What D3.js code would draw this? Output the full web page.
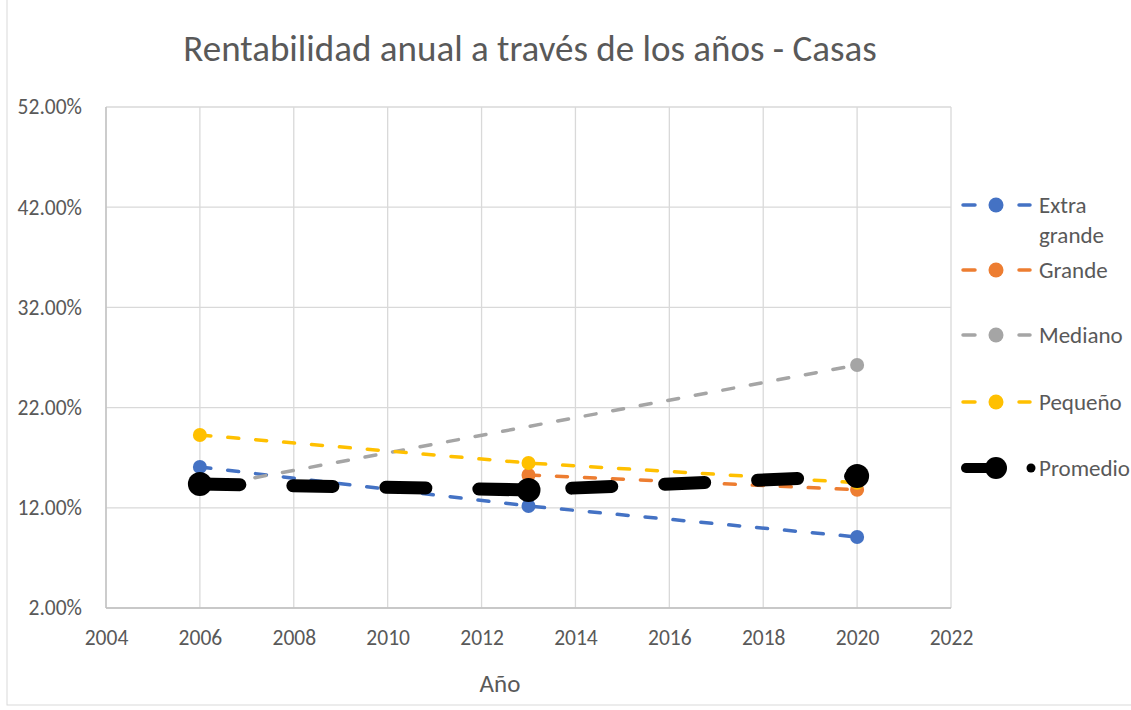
<!DOCTYPE html>
<html><head><meta charset="utf-8">
<script src="https://cdn.jsdelivr.net/npm/d3@7/dist/d3.min.js"></script>
<style>body{margin:0;background:#fff}svg{display:block}text{font-family:Carlito,"Open Sans","Noto Sans",sans-serif;fill:#595959}</style>
</head><body>
<script>
const title = "Rentabilidad anual a través de los años - Casas";
const xTicks = [2004, 2006, 2008, 2010, 2012, 2014, 2016, 2018, 2020, 2022];
const yTicks = [0.02, 0.12, 0.22, 0.32, 0.42, 0.52];
const extraGrandeYears = [2006, 2013, 2020];
const extraGrandeValues = [0.1607, 0.1218, 0.0909];
const grandeYears = [2013, 2020];
const grandeValues = [0.1527, 0.1380];
const medianoYears = [2006, 2020];
const medianoValues = [0.1398, 0.2625];
const pequenoYears = [2006, 2013, 2020];
const pequenoValues = [0.1927, 0.1647, 0.1450];
const promedioYears = [2006, 2013, 2020];
const promedioValues = [0.1438, 0.1378, 0.1517];

const series = [
  {name: "Extra grande", label: ["Extra", "grande"], years: extraGrandeYears, values: extraGrandeValues, color: "#4472C4"},
  {name: "Grande", label: ["Grande"], years: grandeYears, values: grandeValues, color: "#ED7D31"},
  {name: "Mediano", label: ["Mediano"], years: medianoYears, values: medianoValues, color: "#A5A5A5"},
  {name: "Pequeño", label: ["Pequeño"], years: pequenoYears, values: pequenoValues, color: "#FFC000"},
  {name: "Promedio", label: ["Promedio"], years: promedioYears, values: promedioValues, color: "#000000", big: true}
];

const W = 1131, H = 710;
const svg = d3.select("body").append("svg").attr("width", W).attr("height", H);
svg.append("rect").attr("x", 7).attr("y", -2).attr("width", W + 10).attr("height", H - 3)
  .attr("fill", "#fff").attr("stroke", "#d9d9d9").attr("stroke-width", 1);

const x = d3.scaleLinear().domain([2004, 2022]).range([106, 951]);
const y = d3.scaleLinear().domain([0.02, 0.52]).range([608, 107]);

// gridlines
const g = svg.append("g");
g.selectAll(".vg").data(xTicks).join("line")
  .attr("x1", d => x(d)).attr("x2", d => x(d)).attr("y1", y(0.52)).attr("y2", y(0.02))
  .attr("stroke", "#d9d9d9").attr("stroke-width", 1.3);
g.selectAll(".hg").data(yTicks).join("line")
  .attr("x1", x(2004)).attr("x2", x(2022)).attr("y1", d => y(d)).attr("y2", d => y(d))
  .attr("stroke", "#d9d9d9").attr("stroke-width", 1.3);
g.append("line").attr("x1", x(2004)).attr("x2", x(2004)).attr("y1", y(0.52)).attr("y2", y(0.02)).attr("stroke", "#bfbfbf").attr("stroke-width", 1.3);
g.append("line").attr("x1", x(2004)).attr("x2", x(2022)).attr("y1", y(0.02)).attr("y2", y(0.02)).attr("stroke", "#bfbfbf").attr("stroke-width", 1.3);

const yAxis = d3.axisLeft(y).tickValues(yTicks).tickFormat(d => (d * 100).toFixed(2) + "%").tickSize(0).tickPadding(24);
const ya = svg.append("g").attr("transform", `translate(${x(2004)},0)`).call(yAxis);
ya.select(".domain").remove();
ya.selectAll("text").attr("font-size", 21.5).attr("fill", "#595959").style("font-family", 'Carlito,"Open Sans",sans-serif');

const xAxis = d3.axisBottom(x).tickValues(xTicks).tickFormat(d3.format("d")).tickSize(0).tickPadding(22);
const xa = svg.append("g").attr("transform", `translate(0,${y(0.02)})`).call(xAxis);
xa.select(".domain").remove();
xa.selectAll("text").attr("font-size", 21.5).attr("fill", "#595959").style("font-family", 'Carlito,"Open Sans",sans-serif');

svg.append("text").attr("x", 530).attr("y", 61).attr("text-anchor", "middle").attr("font-size", 37).text(title);
svg.append("text").attr("x", 500).attr("y", 692).attr("text-anchor", "middle").attr("font-size", 25).text("Año");

const line = d3.line().x(d => x(d[0])).y(d => y(d[1]));

series.forEach(s => {
  const pts = s.years.map((yr, i) => [yr, s.values[i]]);
  const gs = svg.append("g");
  gs.append("path").datum(pts).attr("d", line).attr("fill", "none")
    .attr("stroke", s.color)
    .attr("stroke-width", s.big ? 13 : 3.5)
    .attr("stroke-linecap", "round")
    .attr("stroke-dasharray", s.big ? "40,53" : "11,17");
  gs.selectAll("circle").data(pts).join("circle")
    .attr("cx", d => x(d[0])).attr("cy", d => y(d[1]))
    .attr("r", s.big ? 12 : 7).attr("fill", s.color);
});

const legY = [205, 270, 335, 402, 468];
series.forEach((s, i) => {
  const lg = svg.append("g").attr("transform", `translate(0,${legY[i]})`);
  if (s.big) {
    lg.append("line").attr("x1", 966).attr("x2", 996).attr("y1", 0).attr("y2", 0)
      .attr("stroke", "#000").attr("stroke-width", 10).attr("stroke-linecap", "round");
    lg.append("circle").attr("cx", 996).attr("cy", 0).attr("r", 11).attr("fill", "#000");
    lg.append("circle").attr("cx", 1031).attr("cy", 0).attr("r", 4.5).attr("fill", "#000");
  } else {
    lg.append("line").attr("x1", 963).attr("x2", 975).attr("y1", 0).attr("y2", 0)
      .attr("stroke", s.color).attr("stroke-width", 3.5).attr("stroke-linecap", "round");
    lg.append("line").attr("x1", 1019).attr("x2", 1030).attr("y1", 0).attr("y2", 0)
      .attr("stroke", s.color).attr("stroke-width", 3.5).attr("stroke-linecap", "round");
    lg.append("circle").attr("cx", 996).attr("cy", 0).attr("r", 7.5).attr("fill", s.color);
  }
  s.label.forEach((t, j) => {
    lg.append("text").attr("x", 1039).attr("y", 8 + j * 30).attr("font-size", 23).text(t);
  });
});
</script>
</body></html>
